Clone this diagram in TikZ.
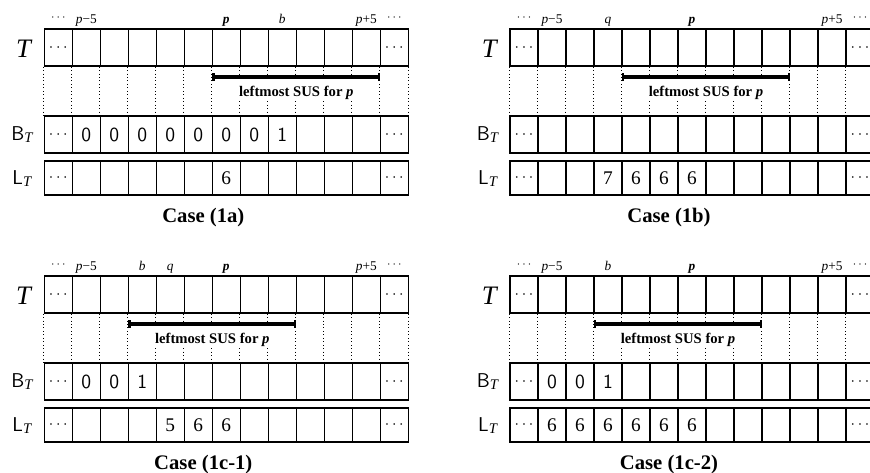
\documentclass[tikz,border=0pt]{standalone}
\usepackage{fontspec}
\setmainfont{Liberation Serif}
\usetikzlibrary{arrows.meta}

\tikzset{
  cell/.style={draw, line width=0.85pt, minimum width=21pt, minimum height=27.75pt, inner sep=0pt},
  guide/.style={dotted, line width=0.6pt},
  dots/.style={inner sep=0pt, font=\fontsize{12}{14}\selectfont},
  toplabel/.style={anchor=base, inner sep=0pt, font=\fontsize{10}{12}\selectfont},
  rowlabel/.style={inner sep=0pt},
  bval/.style={inner sep=0pt, font=\fontsize{15}{17}\selectfont\sffamily},
  lval/.style={inner sep=0pt, font=\fontsize{14.5}{16}\selectfont},
  sus/.style={line width=2.4pt, {Bar[width=6pt,line width=1.8pt]}-{Bar[width=6pt,line width=1.8pt]}},
  suslabel/.style={inner sep=0pt, font=\fontsize{11}{13}\selectfont\bfseries},
  caselabel/.style={inner sep=0pt, font=\fontsize{15.5}{18}\selectfont\bfseries}
}

% the three rows, the guides and the labels shared by all cases
\newcommand{\sketchgrid}{%
  \foreach \i in {0,...,12} {
    \node[cell] (T\i) at (\i*28+14,18.5) {};
    \node[cell] (B\i) at (\i*28+14,105.5) {};
    \node[cell, minimum height=25.5pt] (L\i) at (\i*28+14,149) {};
    \draw[guide] (T\i.south west) -- (B\i.north west);
  }
  \draw[guide] (T12.south east) -- (B12.north east);
  \foreach \r in {T,B,L} {
    \node[dots] (\r dl) at (\r0) {$\cdots$};
    \node[dots] (\r dr) at (\r12) {$\cdots$};
  }
  \node[toplabel, font=\fontsize{9}{11}\selectfont] (h0) at (14,-9) {$\cdots$};
  \node[toplabel] (h1) at (42,-6) {\textit{p}−5};
  \node[toplabel] (h6) at (182,-6) {\textbf{\textit{p}}};
  \node[toplabel] (h11) at (322,-6) {\textit{p}+5};
  \node[toplabel, font=\fontsize{9}{11}\selectfont] (h12) at (350,-9) {$\cdots$};
  \node[rowlabel, font=\fontsize{20}{22}\selectfont] (tname) at (-20,20) {\textit{T}};
  \node[rowlabel, font=\fontsize{15}{17}\selectfont] (bname) at (-22,106) {\textsf{B}\raisebox{-1.5pt}{\fontsize{11}{13}\selectfont\textit{T}}};
  \node[rowlabel, font=\fontsize{15}{17}\selectfont] (lname) at (-22,149.5) {\textsf{L}\raisebox{-1.5pt}{\fontsize{11}{13}\selectfont\textit{T}}};
}

% leftmost SUS from cell #1 up to cell #2
\newcommand{\susbar}[2]{%
  \coordinate (sl) at (#1*28,48);
  \coordinate (sr) at (#2*28,48);
  \fill[white] (#1*28+1.2,49) rectangle (#2*28-1.2,72);
  \draw[sus] (sl) -- (sr);
  \node[suslabel] (sus) at ({(#1+#2)*14},63.5) {leftmost SUS for \textit{p}};
}

\begin{document}
\begin{tikzpicture}[x=0.75pt, y=-0.75pt]
\useasboundingbox (0,0) rectangle (870,472);
\clip (0,0) rectangle (870,472);

% Case (1a)
\begin{scope}[shift={(44.3,29)}, name prefix=a-]
  \sketchgrid
  \susbar{6}{12}
  \node[toplabel] (h8) at (238,-6) {\textit{b}};
  \foreach \i in {1,...,7} \node[bval] (v\i) at (B\i) {0};
  \node[bval] (v8) at (B8) {1};
  \node[lval] (w6) at (L6) {6};
  \node[caselabel] (cap) at (159,188.5) {Case (1a)};
\end{scope}

% Case (1b)
\begin{scope}[shift={(510,29)}, name prefix=b-]
  \sketchgrid
  \susbar{4}{10}
  \node[toplabel] (h3) at (98,-6) {\textit{q}};
  \node[lval] (w3) at (L3) {7};
  \foreach \i in {4,5,6} \node[lval] (w\i) at (L\i) {6};
  \node[caselabel] (cap) at (159,188.5) {Case (1b)};
\end{scope}

% Case (1c-1)
\begin{scope}[shift={(44.3,276)}, name prefix=c-]
  \sketchgrid
  \susbar{3}{9}
  \node[toplabel] (h3) at (98,-6) {\textit{b}};
  \node[toplabel] (h4) at (126,-6) {\textit{q}};
  \foreach \i in {1,2} \node[bval] (v\i) at (B\i) {0};
  \node[bval] (v3) at (B3) {1};
  \node[lval] (w4) at (L4) {5};
  \foreach \i in {5,6} \node[lval] (w\i) at (L\i) {6};
  \node[caselabel] (cap) at (159,188.5) {Case (1c-1)};
\end{scope}

% Case (1c-2)
\begin{scope}[shift={(510,276)}, name prefix=d-]
  \sketchgrid
  \susbar{3}{9}
  \node[toplabel] (h3) at (98,-6) {\textit{b}};
  \foreach \i in {1,2} \node[bval] (v\i) at (B\i) {0};
  \node[bval] (v3) at (B3) {1};
  \foreach \i in {1,...,6} \node[lval] (w\i) at (L\i) {6};
  \node[caselabel] (cap) at (159,188.5) {Case (1c-2)};
\end{scope}
\end{tikzpicture}
\end{document}
